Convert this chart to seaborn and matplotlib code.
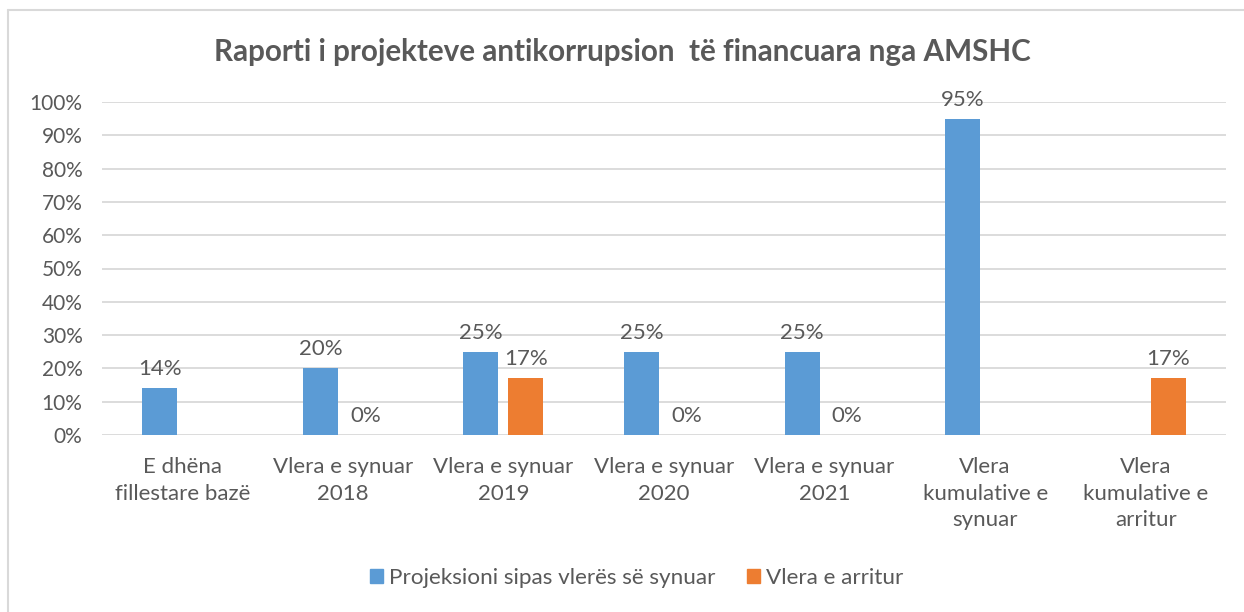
import numpy as np
import pandas as pd
import matplotlib
matplotlib.use("Agg")
import matplotlib.pyplot as plt
from matplotlib.lines import Line2D
import seaborn as sns

title = "Raporti i projekteve antikorrupsion  të financuara nga AMSHC"
categories = [
    "E dhëna\nfillestare bazë",
    "Vlera e synuar\n2018",
    "Vlera e synuar\n2019",
    "Vlera e synuar\n2020",
    "Vlera e synuar\n2021",
    "Vlera\nkumulative e\nsynuar",
    "Vlera\nkumulative e\narritur",
]
series_names = ["Projeksioni sipas vlerës së synuar", "Vlera e arritur"]
projected = [14, 20, 25, 25, 25, 95, np.nan]
achieved = [np.nan, 0, 17, 0, 0, np.nan, 17]
y_ticks = [0, 10, 20, 30, 40, 50, 60, 70, 80, 90, 100]
y_tick_labels = [f"{t}%" for t in y_ticks]

colors = ["#5B9BD5", "#ED7D31"]
text_gray = "#595959"
grid_gray = "#D9D9D9"

df = pd.DataFrame({
    "category": categories * 2,
    "series": [series_names[0]] * len(categories) + [series_names[1]] * len(categories),
    "value": projected + achieved,
})

sns.set_theme(style="white")
plt.rcParams["font.family"] = ["Lato", "DejaVu Sans"]

fig = plt.figure(figsize=(12.44, 6.12), dpi=100)
ax = fig.add_axes([102 / 1244, 1 - 435 / 612, (1226 - 102) / 1244, (435 - 102) / 612])

sns.barplot(
    data=df, x="category", y="value", hue="series",
    order=categories, hue_order=series_names, palette=colors, saturation=1,
    width=0.56, gap=0.22, dodge=True, ax=ax, legend=False,
    linewidth=0, errorbar=None,
)

ax.set_xlim(-0.5, len(categories) - 0.5)
ax.set_ylim(0, 100)
ax.set_yticks(y_ticks)
ax.set_yticklabels(y_tick_labels, fontsize=15, color=text_gray)
ax.yaxis.grid(True, color=grid_gray, linewidth=1.3)
ax.set_axisbelow(True)
ax.tick_params(axis="y", length=0, pad=14)
ax.tick_params(axis="x", length=0, pad=16)
ax.set_xticks(range(len(categories)))
ax.set_xticklabels(categories, fontsize=16, color=text_gray, linespacing=1.4)
ax.set_xlabel("")
ax.set_ylabel("")
for s in ax.spines.values():
    s.set_visible(False)

# value labels above each bar
for cont in ax.containers:
    for bar in cont:
        h = bar.get_height()
        if np.isnan(h):
            continue
        ax.annotate(f"{h:.0f}%", (bar.get_x() + bar.get_width() / 2, h),
                    xytext=(0, 6.5), textcoords="offset points",
                    ha="center", va="bottom", fontsize=16, color=text_gray)

fig.text(0.5, 1 - 52 / 612, title, ha="center", va="center",
         fontsize=21.3, fontweight="bold", color=text_gray)

handles = [plt.Rectangle((0, 0), 1, 1, color=c) for c in colors]
fig.legend(handles, series_names, loc="center", bbox_to_anchor=(0.512, 1 - 578 / 612),
           ncol=2, frameon=False, fontsize=16.2, labelcolor=text_gray,
           handlelength=0.55, handleheight=0.55, handletextpad=0.3, columnspacing=1.4)

# outer chart frame
fig.add_artist(Line2D([8 / 1244, 1], [1 - 10 / 612, 1 - 10 / 612],
                      transform=fig.transFigure, color="#D9D9D9", linewidth=1.5))
fig.add_artist(Line2D([8 / 1244, 8 / 1244], [0, 1 - 10 / 612],
                      transform=fig.transFigure, color="#D9D9D9", linewidth=1.5))

fig.savefig("out.png", dpi=100, facecolor="white")
